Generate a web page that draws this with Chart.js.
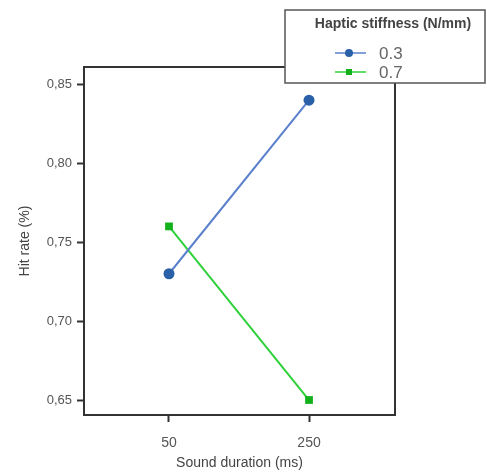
<!DOCTYPE html>
<html>
<head>
<meta charset="utf-8">
<script src="https://cdn.jsdelivr.net/npm/chart.js@4"></script>
<style>
  html, body { margin: 0; padding: 0; background: #fff; }
  #wrap { width: 487px; height: 473px; }
</style>
</head>
<body>
<div id="wrap"><canvas id="myChart" width="487" height="473"></canvas></div>
<script>
const durations = ['50', '250'];
const stiffLow = [0.73, 0.84];   // 0.3 N/mm
const stiffHigh = [0.76, 0.65];  // 0.7 N/mm
const yTicks = [0.65, 0.70, 0.75, 0.80, 0.85];

const FONT = "'Liberation Sans', Arial, sans-serif";

// box round the plot + legend box overlapping the top right corner
const frame = {
  id: 'frame',
  afterDraw(chart) {
    const { ctx, chartArea: a } = chart;
    ctx.save();
    ctx.strokeStyle = '#333';
    ctx.lineWidth = 2;
    ctx.strokeRect(a.left, a.top, a.right - a.left, a.bottom - a.top);

    // legend
    const lx = 285, ly = 10, lw = 200, lh = 73;
    ctx.fillStyle = '#fff';
    ctx.fillRect(lx, ly, lw, lh);
    ctx.strokeStyle = '#555';
    ctx.lineWidth = 1.5;
    ctx.strokeRect(lx, ly, lw, lh);
    ctx.fillStyle = '#444';
    ctx.font = 'bold 14px ' + FONT;
    ctx.textAlign = 'center';
    ctx.textBaseline = 'middle';
    ctx.fillText('Haptic stiffness (N/mm)', 393, ly + 14);
    chart.data.datasets.forEach((ds, i) => {
      const y = ly + 43 + i * 19;
      ctx.strokeStyle = ds.borderColor;
      ctx.lineWidth = 1.5;
      ctx.beginPath();
      ctx.moveTo(lx + 50, y);
      ctx.lineTo(lx + 81, y);
      ctx.stroke();
      ctx.fillStyle = ds.pointBackgroundColor;
      ctx.beginPath();
      if (ds.pointStyle === 'rect') {
        ctx.fillRect(lx + 61, y - 3, 6, 6);
      } else {
        ctx.arc(lx + 64, y, 4, 0, Math.PI * 2);
        ctx.fill();
      }
      ctx.fillStyle = '#666';
      ctx.font = '17px ' + FONT;
      ctx.textAlign = 'left';
      ctx.fillText(ds.label, lx + 94, y + 1);
    });
    ctx.restore();
  }
};

new Chart(document.getElementById('myChart'), {
  type: 'line',
  data: {
    datasets: [{
      label: '0.3',
      data: stiffLow.map((v, i) => ({ x: i, y: v })),
      borderColor: '#5a80cc',
      borderWidth: 2,
      pointBackgroundColor: '#2a60a8',
      pointBorderColor: '#2a60a8',
      pointBorderWidth: 0,
      pointRadius: 5.5,
      pointStyle: 'circle'
    }, {
      label: '0.7',
      data: stiffHigh.map((v, i) => ({ x: i, y: v })),
      borderColor: '#2ed13a',
      borderWidth: 2,
      pointBackgroundColor: '#12b01a',
      pointBorderColor: '#12b01a',
      pointBorderWidth: 0,
      pointRadius: 5.5,
      pointStyle: 'rect'
    }]
  },
  options: {
    responsive: false,
    animation: false,
    layout: { padding: { left: 0, top: 67, right: 92, bottom: 0 } },
    plugins: { legend: { display: false }, tooltip: { enabled: false } },
    scales: {
      x: {
        type: 'linear',
        min: -0.607,
        max: 1.614,
        afterBuildTicks: s => { s.ticks = durations.map((d, i) => ({ value: i })); },
        afterFit: s => { s.height = 58; },
        border: { display: false },
        grid: { drawOnChartArea: false, tickLength: 7, tickWidth: 2, tickColor: '#333' },
        ticks: {
          callback: v => durations[v],
          color: '#555',
          font: { family: FONT, size: 14 },
          padding: 13,
          maxRotation: 0
        },
        title: {
          display: true,
          text: 'Sound duration (ms)',
          color: '#444',
          font: { family: FONT, size: 14 },
          padding: { top: 0, bottom: 1 }
        }
      },
      y: {
        min: 0.6405,
        max: 0.861,
        afterBuildTicks: s => { s.ticks = yTicks.map(v => ({ value: v })); },
        afterFit: s => { s.width = 84; },
        border: { display: false },
        grid: { drawOnChartArea: false, tickLength: 7, tickWidth: 2, tickColor: '#333' },
        ticks: {
          callback: v => v.toFixed(2).replace('.', ','),
          color: '#555',
          font: { family: FONT, size: 13 },
          padding: 5
        },
        title: {
          display: true,
          text: 'Hit rate (%)',
          color: '#444',
          font: { family: FONT, size: 14 },
          padding: { top: 17, bottom: 0 }
        }
      }
    }
  },
  plugins: [frame]
});
</script>
</body>
</html>
